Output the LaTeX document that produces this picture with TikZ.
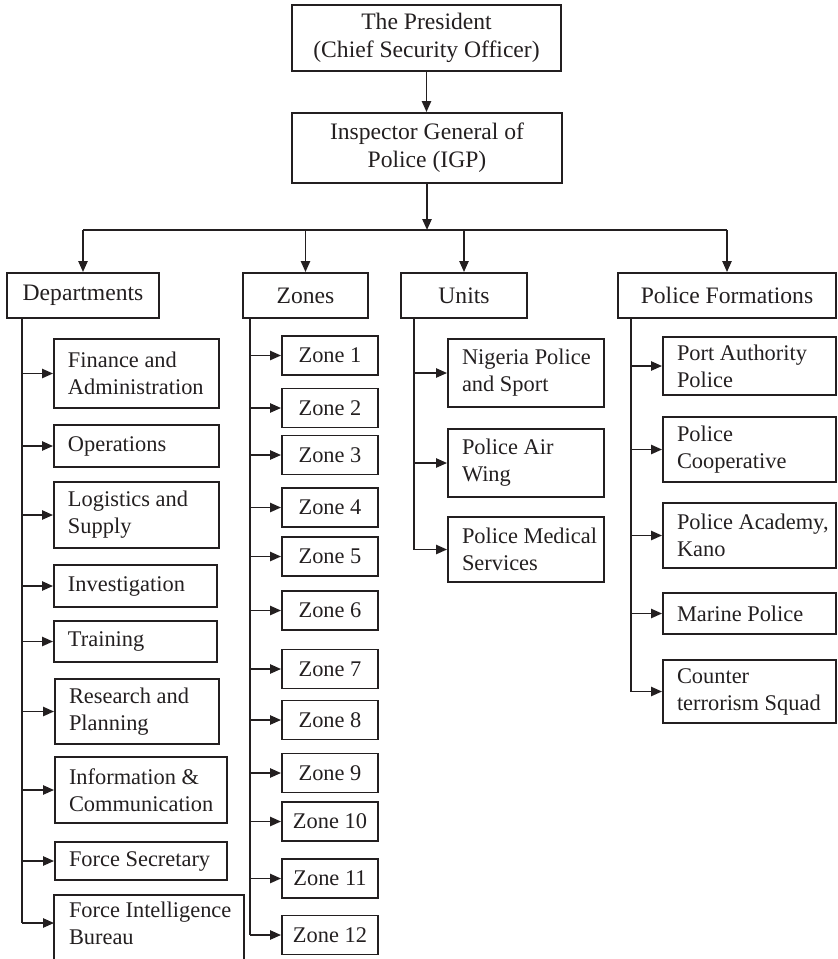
\documentclass[tikz,border=0pt]{standalone}
\usepackage{fontspec}
\setmainfont{Liberation Serif}
\usetikzlibrary{arrows.meta}
\definecolor{ink}{RGB}{35,31,32}
\hyphenpenalty=10000
\exhyphenpenalty=10000
\newcommand{\headfont}{\fontsize{11.8}{14}\selectfont}
\newcommand{\leaffont}{\fontsize{11.2}{13.5}\selectfont\spaceskip=0.25em\relax}

\begin{document}
\begin{tikzpicture}[x=0.5pt,y=-0.5pt,color=ink,line width=0.95pt,
  head/.style={draw,rectangle,inner sep=0pt,align=center,font=\headfont},
  leaf/.style={draw,rectangle,inner xsep=7pt,inner ysep=0pt,align=flush left,font=\leaffont},
  zonebox/.style={draw,rectangle,inner sep=0pt,minimum width=48pt,minimum height=19.5pt,font=\leaffont},
  arr/.style={-{Triangle[length=5.5pt,width=4.6pt]}}]
\useasboundingbox (0,0) rectangle (837,959);
%================================================================
%	Top
\node[head, minimum width=134.5pt, minimum height=33pt] (pres) at (426.5,38) {The President\\(Chief Security Officer)};
\node[head, minimum width=135pt, minimum height=35pt] (igp) at (427,148) {Inspector General of\\Police (IGP)};
\coordinate (bus) at (432,230);
%----------------------------------------------------------------
\draw[arr] (pres.south) -- (pres.south |- igp.north);
\draw[arr] (igp.south) -- (igp.south |- bus);

%================================================================
%	Second level
\node[head, minimum width=76pt, minimum height=22.5pt] (dep) at (83,295.5) {Departments};
\node[head, minimum width=62.5pt, minimum height=22.5pt] (zon) at (305.5,295.5) {Zones};
\node[head, minimum width=63pt, minimum height=22.5pt] (uni) at (464,295.5) {Units};
\node[head, minimum width=109pt, minimum height=22.5pt] (frm) at (727,295.5) {Police Formations};
%----------------------------------------------------------------
\draw (dep.north |- bus) -- (frm.north |- bus);
\draw[arr] (dep.north |- bus) -- (dep.north);
\draw[arr] (zon.north |- bus) -- (zon.north);
\draw[arr] (uni.north |- bus) -- (uni.north);
\draw[arr] (frm.north |- bus) -- (frm.north);

%================================================================
%	Departments
\node[leaf, text width=68.5pt, minimum height=34.5pt] (fin) at (136.5,373.5) {Finance~and\\Administration};
\node[leaf, text width=68.5pt, minimum height=21pt] (ops) at (136.5,446) {Operations};
\node[leaf, text width=68.5pt, minimum height=33pt] (log) at (136.5,515) {Logistics~and\\Supply};
\node[leaf, text width=67.5pt, minimum height=21pt] (inv) at (135.5,586) {Investigation};
\node[leaf, text width=67.5pt, minimum height=20.5pt] (trn) at (135.5,641.5) {Training};
\node[leaf, text width=68pt, minimum height=32.5pt] (res) at (137,711.5) {Research~and\\Planning};
\node[leaf, text width=72pt, minimum height=33pt] (inf) at (141,790) {Information~\&\\Communication};
\node[leaf, text width=72pt, minimum height=19pt] (fsec) at (141,861) {Force~Secretary};
\node[leaf, draw=none, text width=80pt, minimum height=27pt] (fib) at (149,923) {Force~Intelligence\\Bureau};
\draw ([yshift=-6pt]fib.south west) -- (fib.north west) -- (fib.north east) -- ([yshift=-6pt]fib.south east);
%----------------------------------------------------------------
\coordinate (depT) at ([xshift=8pt]dep.south west);
\draw (depT) -- (depT |- fib.west);
\draw[arr] (depT |- fin.west) -- (fin.west);
\draw[arr] (depT |- ops.west) -- (ops.west);
\draw[arr] (depT |- log.west) -- (log.west);
\draw[arr] (depT |- inv.west) -- (inv.west);
\draw[arr] (depT |- trn.west) -- (trn.west);
\draw[arr] (depT |- res.west) -- (res.west);
\draw[arr] (depT |- inf.west) -- (inf.west);
\draw[arr] (depT |- fsec.west) -- (fsec.west);
\draw[arr] (depT |- fib.west) -- (fib.west);

%================================================================
%	Zones
\node[zonebox] (z1) at (330,355.5) {Zone 1};
\node[zonebox] (z2) at (330,408) {Zone 2};
\node[zonebox] (z3) at (330,455) {Zone 3};
\node[zonebox] (z4) at (330,507.5) {Zone 4};
\node[zonebox] (z5) at (330,556.5) {Zone 5};
\node[zonebox] (z6) at (330,610.5) {Zone 6};
\node[zonebox] (z7) at (330,669) {Zone 7};
\node[zonebox] (z8) at (330,720) {Zone 8};
\node[zonebox] (z9) at (330,773) {Zone 9};
\node[zonebox] (z10) at (330,821.5) {Zone 10};
\node[zonebox] (z11) at (330,878.5) {Zone 11};
\node[zonebox] (z12) at (330,935) {Zone 12};
%----------------------------------------------------------------
\coordinate (zonT) at ([xshift=4pt]zon.south west);
\draw (zonT) -- (zonT |- z12.west);
\draw[arr] (zonT |- z1.west) -- (z1.west);
\draw[arr] (zonT |- z2.west) -- (z2.west);
\draw[arr] (zonT |- z3.west) -- (z3.west);
\draw[arr] (zonT |- z4.west) -- (z4.west);
\draw[arr] (zonT |- z5.west) -- (z5.west);
\draw[arr] (zonT |- z6.west) -- (z6.west);
\draw[arr] (zonT |- z7.west) -- (z7.west);
\draw[arr] (zonT |- z8.west) -- (z8.west);
\draw[arr] (zonT |- z9.west) -- (z9.west);
\draw[arr] (zonT |- z10.west) -- (z10.west);
\draw[arr] (zonT |- z11.west) -- (z11.west);
\draw[arr] (zonT |- z12.west) -- (z12.west);

%================================================================
%	Units
\node[leaf, text width=64pt, minimum height=34pt] (nps) at (526,373) {Nigeria~Police\\and~Sport};
\node[leaf, text width=64pt, minimum height=34pt] (paw) at (526,463) {Police~Air\\Wing};
\node[leaf, text width=64pt, minimum height=32.5pt] (pms) at (526,549.5) {Police~Medical\\Services};
%----------------------------------------------------------------
\coordinate (uniT) at ([xshift=7pt]uni.south west);
\draw (uniT) -- (uniT |- pms.west);
\draw[arr] (uniT |- nps.west) -- (nps.west);
\draw[arr] (uniT |- paw.west) -- (paw.west);
\draw[arr] (uniT |- pms.west) -- (pms.west);

%================================================================
%	Police Formations
\node[leaf, text width=72.5pt, minimum height=29pt] (pap) at (749.5,366) {Port~Authority\\Police};
\node[leaf, text width=72.5pt, minimum height=32.5pt] (pco) at (749.5,449.5) {Police\\Cooperative};
\node[leaf, text width=72.5pt, minimum height=32.5pt] (pak) at (749.5,535.5) {Police~Academy,\\Kano};
\node[leaf, text width=72.5pt, minimum height=20.5pt] (mar) at (749.5,613.5) {Marine~Police};
\node[leaf, text width=72.5pt, minimum height=31.5pt] (cts) at (749.5,691.5) {Counter\\terrorism~Squad};
%----------------------------------------------------------------
\coordinate (frmT) at ([xshift=7pt]frm.south west);
\draw (frmT) -- (frmT |- cts.west);
\draw[arr] (frmT |- pap.west) -- (pap.west);
\draw[arr] (frmT |- pco.west) -- (pco.west);
\draw[arr] (frmT |- pak.west) -- (pak.west);
\draw[arr] (frmT |- mar.west) -- (mar.west);
\draw[arr] (frmT |- cts.west) -- (cts.west);
%================================================================
\end{tikzpicture}
\end{document}
